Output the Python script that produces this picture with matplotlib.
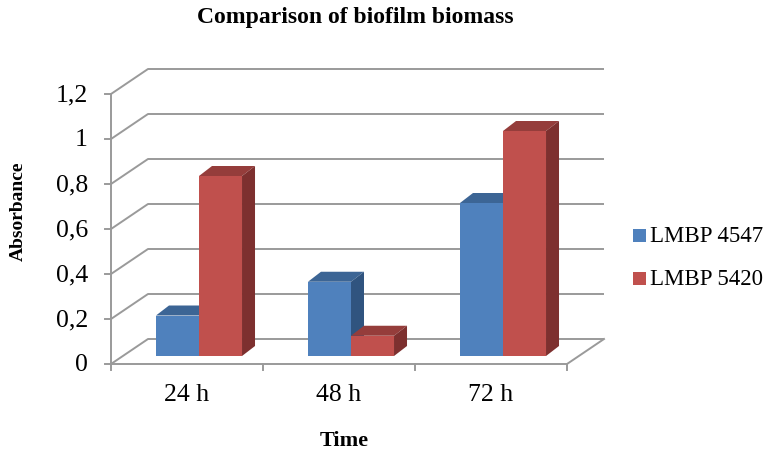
import matplotlib.pyplot as plt
from matplotlib.patches import Polygon

# data
categories = ["24 h", "48 h", "72 h"]
lmbp_4547 = [0.18, 0.33, 0.68]
lmbp_5420 = [0.80, 0.09, 1.00]
series_names = ["LMBP 4547", "LMBP 5420"]
y_ticks = [0, 0.2, 0.4, 0.6, 0.8, 1.0, 1.2]
y_ticklabels = ["0", "0,2", "0,4", "0,6", "0,8", "1", "1,2"]

# fake 3d geometry (category units on x, value units on y)
wall_dx, wall_dy = 37 / 152, 25 / 225     # depth of the back wall
bar_dx0, bar_dy0 = 12 / 152, 8 / 225      # where the bar front faces sit
bar_ddx, bar_ddy = 13 / 152, 10 / 225     # depth of a bar
bar_w = 0.283
grid_col = "#9a9a9a"

colors = [
    ("#4f81bd", "#3c6595", "#30547f"),
    ("#c0504d", "#953d3b", "#7d302f"),
]

plt.rcParams["font.family"] = ["Liberation Serif", "DejaVu Serif"]

fig = plt.figure(figsize=(7.71, 4.52), dpi=100)
ax = fig.add_axes([100 / 771, 72 / 452, 520 / 771, 320 / 452])
ax.set_xlim(-11 / 152, 509 / 152)
ax.set_ylim(-15 / 225, 305 / 225)
ax.axis("off")

n = len(categories)

# walls / gridlines
for v in y_ticks:
    ax.plot([0, wall_dx, n + wall_dx], [v, v + wall_dy, v + wall_dy],
            color=grid_col, lw=1.4, solid_capstyle="butt", zorder=1)
    ax.plot([-6 / 152, 0], [v, v], color=grid_col, lw=1.4, zorder=1)
ax.plot([0, n, n + wall_dx], [0, 0, wall_dy], color=grid_col, lw=1.4, zorder=1)
ax.plot([0, 0], [-6 / 225, y_ticks[-1]], color=grid_col, lw=1.4, zorder=1)
for i in range(1, n + 1):
    ax.plot([i, i], [0, -6 / 225], color=grid_col, lw=1.4, zorder=1)


def bar3d(x0, h, cols):
    front, top, side = cols
    x0 = x0 + bar_dx0
    y0 = bar_dy0
    x1 = x0 + bar_w
    y1 = y0 + h
    ax.add_patch(Polygon([(x0, y0), (x1, y0), (x1, y1), (x0, y1)],
                         closed=True, fc=front, ec="none", zorder=3))
    ax.add_patch(Polygon([(x0, y1), (x1, y1), (x1 + bar_ddx, y1 + bar_ddy),
                          (x0 + bar_ddx, y1 + bar_ddy)],
                         closed=True, fc=top, ec="none", zorder=3))
    ax.add_patch(Polygon([(x1, y0), (x1 + bar_ddx, y0 + bar_ddy),
                          (x1 + bar_ddx, y1 + bar_ddy), (x1, y1)],
                         closed=True, fc=side, ec="none", zorder=3))


for i in range(n):
    left = i + 0.5 - bar_w
    bar3d(left, lmbp_4547[i], colors[0])
    bar3d(left + bar_w, lmbp_5420[i], colors[1])

# tick labels
for v, lab in zip(y_ticks, y_ticklabels):
    ax.text(-23 / 152, v, lab, ha="right", va="center", fontsize=18.5)
for i, lab in enumerate(categories):
    ax.text(i + 0.5, -30 / 225, lab, ha="center", va="center", fontsize=18.5)

# titles
fig.text(355 / 771, 1 - 18 / 452, "Comparison of biofilm biomass",
         ha="center", va="center", fontsize=17, fontweight="bold")
fig.text(344 / 771, 1 - 441 / 452, "Time", ha="center", va="center",
         fontsize=16, fontweight="bold")
fig.text(18 / 771, 1 - 211 / 452, "Absorbance", ha="center", va="center",
         rotation=90, fontsize=14, fontweight="bold")

# legend
for k, (name, cy) in enumerate(zip(series_names, [237, 280])):
    fig.patches.append(plt.Rectangle((633 / 771, 1 - (cy + 6) / 452), 13 / 771, 13 / 452,
                                     transform=fig.transFigure, fc=colors[k][0], ec="none"))
    fig.text(650 / 771, 1 - cy / 452, name, ha="left", va="center", fontsize=16.5)

fig.savefig("out.png", dpi=100)
